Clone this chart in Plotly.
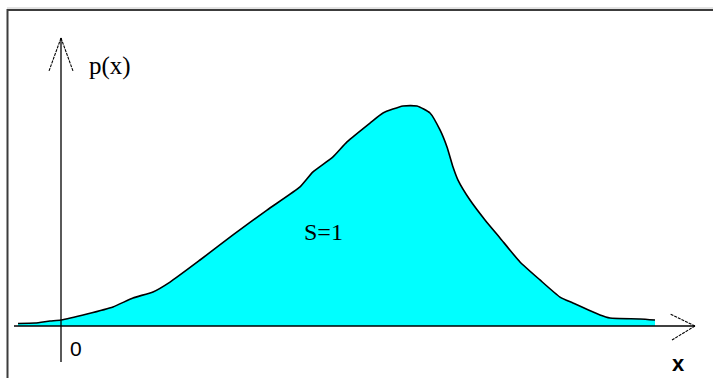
import plotly.graph_objects as go

# Density curve p(x), read along the outline of the shaded region
x_vals = [-1.075, -0.65, -0.275, 0.0, 0.65, 1.3, 1.8, 2.3, 2.725, 3.475, 4.3,
          5.15, 5.975, 6.3, 6.8, 7.15, 7.725, 8.05, 8.55, 8.9, 9.225, 9.475,
          9.65, 9.8, 9.925, 10.225, 10.6, 10.975, 11.475, 11.975, 12.475,
          12.8, 13.475, 13.725, 14.475, 14.85]
p_vals = [0.0017, 0.002, 0.0033, 0.004, 0.008, 0.0127, 0.0187, 0.0227,
          0.0293, 0.044, 0.0607, 0.0773, 0.0927, 0.1027, 0.1127, 0.1227,
          0.1353, 0.142, 0.1467, 0.1467, 0.142, 0.1307, 0.1193, 0.106,
          0.0973, 0.084, 0.0707, 0.0587, 0.0427, 0.0307, 0.0193, 0.0153,
          0.0073, 0.0053, 0.0047, 0.004]

# Axis extents (data units)
X_START, X_END = -1.175, 15.85
P_BOTTOM, P_TOP = -0.024, 0.192
X_RANGE = [-1.525, 16.3]
P_RANGE = [-0.03467, 0.21733]

W, H = 713, 378

fig = go.Figure()
fig.add_trace(go.Scatter(
    x=x_vals, y=p_vals, mode="lines",
    line=dict(color="black", width=1.6, shape="spline", smoothing=0.5),
    fill="tozeroy", fillcolor="#00FFFF", hoverinfo="skip",
))

axis_line = dict(color="black", width=1.3)
arrow_line = dict(color="black", width=1.1, dash="3px,1px")
shapes = [
    # x axis with open arrow head
    dict(type="line", x0=X_START, y0=0, x1=X_END, y1=0, line=axis_line),
    dict(type="line", x0=X_END, y0=0, x1=X_END - 0.625, y1=0.008, line=arrow_line),
    dict(type="line", x0=X_END, y0=0, x1=X_END - 0.575, y1=-0.0093, line=arrow_line),
    # y axis with open arrow head
    dict(type="line", x0=0, y0=P_BOTTOM, x1=0, y1=P_TOP, line=axis_line),
    dict(type="line", x0=0, y0=P_TOP, x1=-0.3, y1=0.17, line=arrow_line),
    dict(type="line", x0=0, y0=P_TOP, x1=0.3, y1=0.17, line=arrow_line),
    # frame along the top and left edges
    dict(type="line", xref="paper", yref="paper", x0=7 / W, x1=1,
         y0=1 - 8 / H, y1=1 - 8 / H, line=dict(color="#c8c8c8", width=1)),
    dict(type="line", xref="paper", yref="paper", x0=7 / W, x1=1,
         y0=1 - 10 / H, y1=1 - 10 / H, line=dict(color="#3c3c3c", width=2)),
    dict(type="line", xref="paper", yref="paper", x0=7.5 / W, x1=7.5 / W,
         y0=0, y1=1 - 9 / H, line=dict(color="#3c3c3c", width=2)),
]

serif = "Liberation Serif, Times New Roman, serif"
annotations = [
    dict(x=1.225, y=0.1733, text="p(x)", showarrow=False,
         font=dict(family=serif, size=25, color="black")),
    dict(x=6.55, y=0.0627, text="S=1", showarrow=False,
         font=dict(family=serif, size=24, color="black")),
    dict(x=0.375, y=-0.0147, text="0", showarrow=False,
         font=dict(family="Liberation Sans, Arial, sans-serif", size=21, color="black")),
    dict(x=15.425, y=-0.0253, text="<b>x</b>", showarrow=False,
         font=dict(family="Liberation Sans, Arial, sans-serif", size=22, color="black")),
]

fig.update_layout(
    width=W, height=H, autosize=False,
    margin=dict(l=0, r=0, t=0, b=0),
    paper_bgcolor="white", plot_bgcolor="white",
    showlegend=False,
    xaxis=dict(range=X_RANGE, visible=False, fixedrange=True),
    yaxis=dict(range=P_RANGE, visible=False, fixedrange=True),
    shapes=shapes, annotations=annotations,
)

fig.write_html("out.html")
